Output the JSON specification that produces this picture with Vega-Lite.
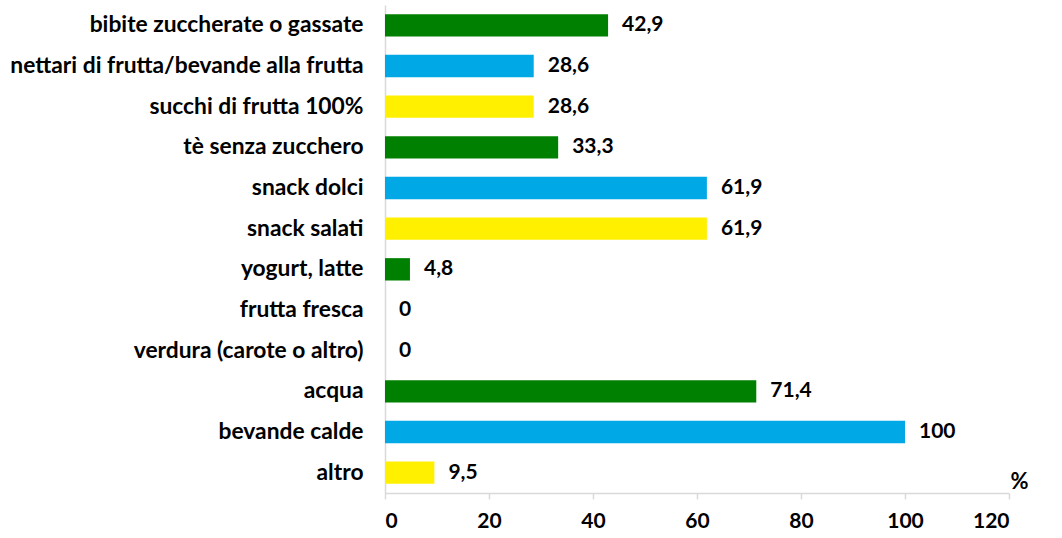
{
  "$schema": "https://vega.github.io/schema/vega-lite/v6.json",
  "autosize": "none",
  "padding": {"left": 385, "top": 5, "right": 53, "bottom": 45},
  "width": 624,
  "height": 488,
  "background": "white",
  "config": {"view": {"stroke": null}, "font": "Lato"},
  "data": {"values": [
    {"voce": "bibite zuccherate o gassate", "valore": 42.9, "label": "42,9", "col": "g"},
    {"voce": "nettari di frutta/bevande alla frutta", "valore": 28.6, "label": "28,6", "col": "b"},
    {"voce": "succhi di frutta 100%", "valore": 28.6, "label": "28,6", "col": "y"},
    {"voce": "tè senza zucchero", "valore": 33.3, "label": "33,3", "col": "g"},
    {"voce": "snack dolci", "valore": 61.9, "label": "61,9", "col": "b"},
    {"voce": "snack salati", "valore": 61.9, "label": "61,9", "col": "y"},
    {"voce": "yogurt, latte", "valore": 4.8, "label": "4,8", "col": "g"},
    {"voce": "frutta fresca", "valore": 0, "label": "0", "col": "b"},
    {"voce": "verdura (carote o altro)", "valore": 0, "label": "0", "col": "y"},
    {"voce": "acqua", "valore": 71.4, "label": "71,4", "col": "g"},
    {"voce": "bevande calde", "valore": 100, "label": "100", "col": "b"},
    {"voce": "altro", "valore": 9.5, "label": "9,5", "col": "y"}
  ]},
  "encoding": {
    "y": {
      "field": "voce", "type": "nominal", "sort": null,
      "scale": {"paddingInner": 0.45, "paddingOuter": 0.225},
      "axis": {"title": null, "domain": true, "domainColor": "#d9d9d9", "domainWidth": 1.5, "ticks": false,
        "labelFontSize": 22.8, "labelFontWeight": "bold", "labelColor": "#000000", "labelPadding": 22, "labelLimit": 400,
        "labelFont": "Lato"}
    }
  },
  "layer": [
    {
      "mark": {"type": "bar"},
      "encoding": {
        "x": {"field": "valore", "type": "quantitative",
          "scale": {"domain": [0, 120], "nice": false},
          "axis": {"values": [0, 20, 40, 60, 80, 100, 120], "grid": false, "domainColor": "#d9d9d9", "domainWidth": 1.5,
            "tickColor": "#d9d9d9", "tickSize": 6, "tickWidth": 1.5,
            "labelFontSize": 21, "labelFontWeight": "bold", "labelColor": "#000000", "labelPadding": 11,
            "labelFont": "Lato",
            "title": "%", "titleFontSize": 22, "titleFontWeight": "bold", "titleColor": "#000000",
            "titleX": 634, "titleY": -12, "titleAnchor": "start", "titleAlign": "center", "titleBaseline": "middle",
            "titleFont": "Lato"}},
        "color": {"field": "col", "type": "nominal",
          "scale": {"domain": ["g", "b", "y"], "range": ["#008000", "#00A8E6", "#FFF000"]}, "legend": null}
      }
    },
    {
      "mark": {"type": "text", "align": "left", "baseline": "middle", "dx": 14, "fontSize": 21, "fontWeight": "bold", "color": "#000000", "font": "Lato"},
      "encoding": {
        "x": {"field": "valore", "type": "quantitative"},
        "text": {"field": "label", "type": "nominal"}
      }
    }
  ]
}
